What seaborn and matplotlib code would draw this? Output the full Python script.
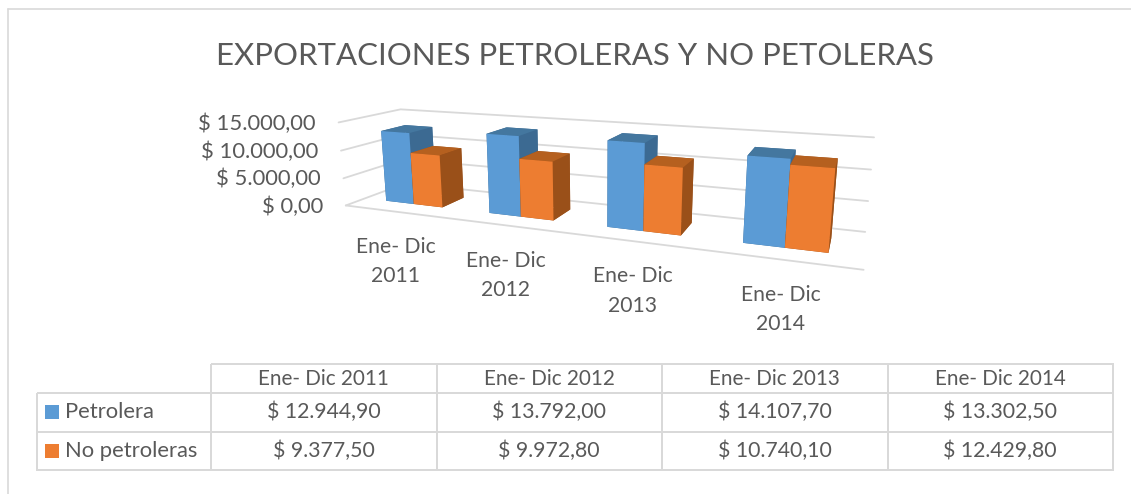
import matplotlib
matplotlib.use("Agg")
import matplotlib.pyplot as plt
import numpy as np
import seaborn as sns
from matplotlib.colors import ListedColormap
from matplotlib.lines import Line2D
from matplotlib.patches import Rectangle
from mpl_toolkits.mplot3d import proj3d

W, H = 1131, 494

periods = ["Ene- Dic 2011", "Ene- Dic 2012", "Ene- Dic 2013", "Ene- Dic 2014"]
series = ["Petrolera", "No petroleras"]
petrolera = [12944.90, 13792.00, 14107.70, 13302.50]
no_petroleras = [9377.50, 9972.80, 10740.10, 12429.80]
z_ticks = [0, 5000, 10000, 15000]
title = "EXPORTACIONES PETROLERAS Y NO PETOLERAS"

sns.set_theme(style="white")
plt.rcParams['font.family'] = ['Lato', 'DejaVu Sans']
TEXT = "#595959"
GRID = "#d9d9d9"
front = sns.color_palette(["#5b9bd5", "#ed7d31"])
top = sns.color_palette(["#44779f", "#b5601f"])
side = sns.color_palette(["#3c6a92", "#9a5019"])
white = ListedColormap(["white"])


def money(v):
    s = f"{v:,.2f}".replace(",", "_").replace(".", ",").replace("_", ".")
    return f"$ {s}"


def box(x0, y0, x1, y1):
    # pixel box from top left -> figure fractions
    return [x0 / W, 1 - y1 / H, (x1 - x0) / W, (y1 - y0) / H]


fig = plt.figure(figsize=(W / 100, H / 100), dpi=100)
fig.patch.set_facecolor("white")

# frame of the pasted chart, only top and left show
fig.add_artist(Line2D([8 / W, 1], [1 - 9 / H, 1 - 9 / H], color=GRID, lw=1.2))
fig.add_artist(Line2D([8 / W, 8 / W], [1 - 9 / H, 0], color=GRID, lw=1.2))

fig.text(575 / W, 1 - 56 / H, title, ha="center", va="center", fontsize=22.4, color=TEXT)

# 3D bars, camera fitted against the corners of the reference box
ax = fig.add_axes([0.2 + 107.98 / W, 66.07 / H, H / W, 1.0], projection="3d", computed_zorder=False)
ax.set_xlim(0, 4, view_margin=0)
ax.set_ylim(0, 1, view_margin=0)
ax.set_zlim(0, 15000, view_margin=0)
ax.set_proj_type("persp", focal_length=0.2597)
ax.view_init(13.3139, -68.0456, 0.1857)
ax.set_box_aspect((4, 0.8088, 0.6946), zoom=1.0640)
ax.set_axis_off()
ax.patch.set_alpha(0)

for z in z_ticks:
    ax.plot([0, 0, 4], [0, 1, 1], [z, z, z], color=GRID, lw=1.3, zorder=1, clip_on=False)
ax.plot([0, 4], [0, 0], [0, 0], color=GRID, lw=1.3, zorder=1, clip_on=False)

bar_w = 0.28
bar_y, bar_d = 0.3, 0.4
for i in range(len(periods)):
    for j, vals in enumerate([petrolera, no_petroleras]):
        cols = [side[j], top[j], front[j], side[j], side[j], side[j]]
        bars = ax.bar3d(i + 0.5 - bar_w + j * bar_w, bar_y, 0, bar_w, bar_d, vals[i],
                        color=cols, shade=False, linewidth=0, zorder=3 + 2 * i + j)
        bars.set_clip_on(False)

M = ax.get_proj()
for z in z_ticks:
    xp, yp, _ = proj3d.proj_transform(0, 0, z, M)
    ax.annotate(money(z), (xp, yp), xytext=(-23, -1), textcoords="offset pixels", ha="right",
                va="center", fontsize=15.8, color=TEXT, annotation_clip=False)

for i, p in enumerate(periods):
    a, b = p.rsplit(" ", 1)
    xp, yp, _ = proj3d.proj_transform(i + 0.5, 0, 0, M)
    ax.annotate(f"{a}\n{b}", (xp, yp), xytext=(0, -50), textcoords="offset pixels", ha="center",
                va="center", fontsize=15.2, color=TEXT, linespacing=1.6, annotation_clip=False)

# data table under the chart
head_ax = fig.add_axes(box(211, 364, 1113, 393))
sns.heatmap(np.zeros((1, 4)), ax=head_ax, cmap=white, cbar=False, annot=np.array([periods]), fmt="",
            annot_kws={"fontsize": 14.9, "color": TEXT}, linewidths=1.2, linecolor=GRID,
            xticklabels=False, yticklabels=False)

body = np.array([petrolera, no_petroleras])
labels = np.array([[money(v) for v in row] for row in body])
body_ax = fig.add_axes(box(211, 393, 1113, 470))
sns.heatmap(body, ax=body_ax, cmap=white, cbar=False, annot=labels, fmt="",
            annot_kws={"fontsize": 15.3, "color": TEXT}, linewidths=1.2, linecolor=GRID,
            xticklabels=False, yticklabels=False)

key_ax = fig.add_axes(box(37, 393, 211, 470))
sns.heatmap(np.zeros((2, 1)), ax=key_ax, cmap=white, cbar=False, linewidths=1.2, linecolor=GRID,
            xticklabels=False, yticklabels=False)
for j, name in enumerate(series):
    key_ax.add_patch(Rectangle((0.046, j + 0.32), 0.081, 0.36, color=front[j], lw=0))
    key_ax.text(0.16, j + 0.5, name, va="center", ha="left", fontsize=15.8, color=TEXT)

for a in (head_ax, body_ax, key_ax):
    a.collections[0].set_clip_on(False)

fig.savefig("out.png", dpi=100)
